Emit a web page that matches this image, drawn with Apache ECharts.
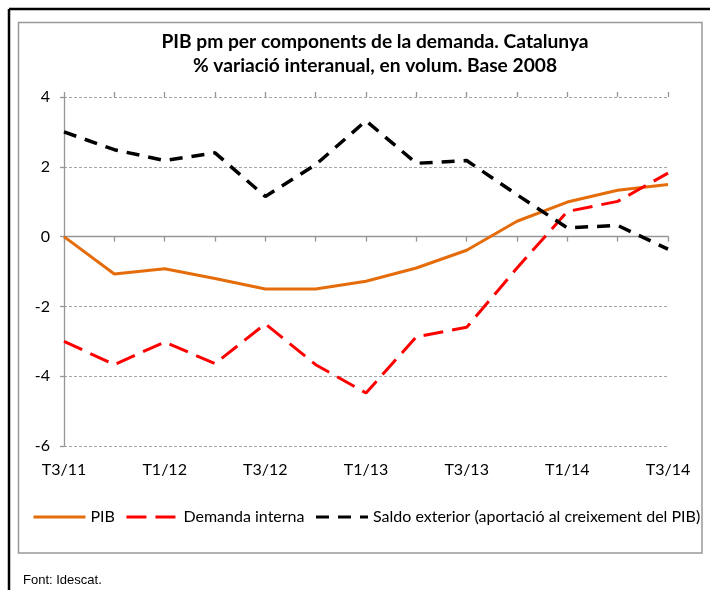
<!DOCTYPE html>
<html>
<head>
<meta charset="utf-8">
<script src="https://cdn.jsdelivr.net/npm/echarts@6/dist/echarts.min.js"></script>
<style>
html,body{margin:0;padding:0;background:#fff;}
#chart{width:710px;height:590px;}
</style>
</head>
<body>
<div id="chart"></div>
<script>
const categories = ['T3/11','T4/11','T1/12','T2/12','T3/12','T4/12','T1/13','T2/13','T3/13','T4/13','T1/14','T2/14','T3/14'];
const pib = [0.0, -1.07, -0.92, -1.2, -1.5, -1.5, -1.28, -0.9, -0.39, 0.44, 0.99, 1.33, 1.49];
const demandaInterna = [-3.0, -3.67, -3.02, -3.64, -2.5, -3.67, -4.48, -2.87, -2.6, -0.9, 0.72, 1.01, 1.82];
const saldoExterior = [3.0, 2.49, 2.18, 2.4, 1.15, 2.06, 3.32, 2.1, 2.18, 1.2, 0.25, 0.32, -0.36];
const yTicks = [-6, -4, -2, 0, 2, 4];
const titleText = 'PIB pm per components de la demanda. Catalunya\n% variació interanual, en volum. Base 2008';
const seriesNames = ['PIB', 'Demanda interna', 'Saldo exterior (aportació al creixement del PIB)'];
const sourceText = 'Font: Idescat.';

const chart = echarts.init(document.getElementById('chart'), null, {renderer: 'canvas'});
const FONT = 'Lato, Calibri, Carlito, sans-serif';
const GREY = '#969696';

const option = {
  backgroundColor: '#fff',
  animation: false,
  title: {
    text: titleText,
    left: 370,
    top: 25,
    textAlign: 'center',
    textStyle: {fontFamily: FONT, fontWeight: 'bold', fontSize: 19.2, lineHeight: 24, color: '#000'}
  },
  legend: {
    left: 32,
    top: 509,
    width: 678,
    itemWidth: 52,
    itemHeight: 18,
    itemGap: 10,
    padding: 0,
    itemStyle: {opacity: 0},
    lineStyle: {width: 3},
    textStyle: {fontFamily: FONT, fontSize: 16, color: '#000'},
    data: seriesNames
  },
  grid: {left: 64, right: 42, top: 97, bottom: 144, containLabel: false},
  xAxis: [
    {
      type: 'category', data: categories, boundaryGap: false, position: 'bottom',
      axisLine: {show: false, onZero: false}, axisTick: {show: false},
      axisLabel: {interval: 1, margin: 16, fontFamily: FONT, fontSize: 16, color: '#000'},
      splitLine: {show: false}
    },
    {
      type: 'category', data: categories, boundaryGap: false, position: 'bottom',
      axisLine: {show: true, onZero: true, lineStyle: {color: GREY, width: 1.3}},
      axisTick: {show: true, interval: 0, length: 5, lineStyle: {color: GREY, width: 1.3}},
      axisLabel: {show: false}, splitLine: {show: false}
    },
    {
      type: 'category', data: categories, boundaryGap: false, position: 'top',
      axisLine: {show: false, onZero: true},
      axisTick: {show: true, interval: 0, length: 5, lineStyle: {color: GREY, width: 1.3}},
      axisLabel: {show: false}, splitLine: {show: false}
    }
  ],
  yAxis: {
    type: 'value', min: yTicks[0], max: yTicks[yTicks.length - 1], interval: 2,
    axisLine: {show: true, lineStyle: {color: GREY, width: 1.3}},
    axisTick: {show: true, length: 4, lineStyle: {color: GREY, width: 1.3}},
    axisLabel: {margin: 14, fontFamily: FONT, fontSize: 16, color: '#000'},
    splitLine: {show: true, lineStyle: {color: '#a6a6a6', width: 1, type: [3, 2]}}
  },
  series: [
    {
      name: seriesNames[0], type: 'line', data: pib, xAxisIndex: 0, symbol: 'none',
      lineStyle: {color: '#E46C0A', width: 3}, itemStyle: {color: '#E46C0A'}, z: 3
    },
    {
      name: seriesNames[1], type: 'line', data: demandaInterna, xAxisIndex: 0, symbol: 'none',
      lineStyle: {color: '#FF0000', width: 3, type: [20, 9]}, itemStyle: {color: '#FF0000'}, z: 4
    },
    {
      name: seriesNames[2], type: 'line', data: saldoExterior, xAxisIndex: 0, symbol: 'none',
      lineStyle: {color: '#000000', width: 3.5, type: [13, 9]}, itemStyle: {color: '#000'}, z: 5
    }
  ],
  graphic: [
    {type: 'line', shape: {x1: 9, y1: 9, x2: 710, y2: 9}, style: {stroke: '#000', lineWidth: 2.5}, z: 10},
    {type: 'line', shape: {x1: 9, y1: 9, x2: 9, y2: 590}, style: {stroke: '#000', lineWidth: 2.5}, z: 10},
    {type: 'rect', shape: {x: 18.5, y: 22.5, width: 683.5, height: 530.5}, style: {fill: 'none', stroke: '#999', lineWidth: 1.5}, z: -1},
    {type: 'text', left: 23, top: 574, style: {text: sourceText, font: '13px "Liberation Sans", Arial, sans-serif', fill: '#000'}}
  ]
};
chart.setOption(option);
</script>
</body>
</html>
